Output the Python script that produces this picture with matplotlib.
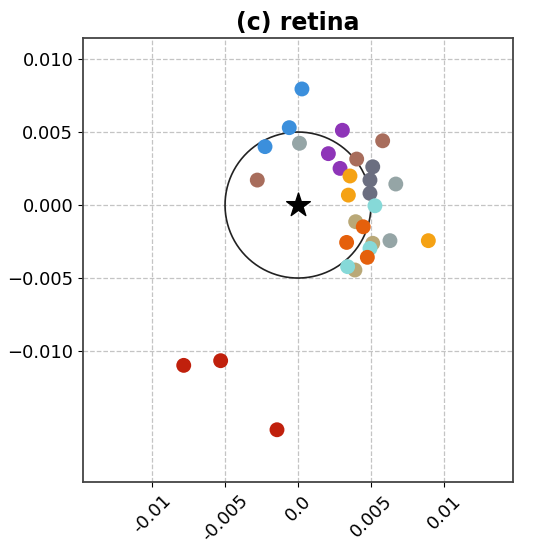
import matplotlib.pyplot as plt
import numpy as np

# embedding offsets per group
blue_x = [0.00027, -0.0006, -0.00226]
blue_y = [0.00795, 0.0053, 0.0040]
gray_x = [0.0001, 0.0067, 0.0063]
gray_y = [0.00423, 0.00144, -0.00244]
brown_x = [-0.00279, 0.0058, 0.00402]
brown_y = [0.00171, 0.0044, 0.00315]
purple_x = [0.00304, 0.00208, 0.00288]
purple_y = [0.00512, 0.00352, 0.00251]
slate_x = [0.00512, 0.00493, 0.00493]
slate_y = [0.00262, 0.00171, 0.0008]
orange_x = [0.00356, 0.00345, 0.00893]
orange_y = [0.00199, 0.00068, -0.00244]
tan_x = [0.00395, 0.00512, 0.0039]
tan_y = [-0.00114, -0.00262, -0.00445]
cyan_x = [0.00527, 0.00493, 0.0034]
cyan_y = [-0.00005, -0.00297, -0.00422]
pumpkin_x = [0.00447, 0.00333, 0.00475]
pumpkin_y = [-0.00149, -0.00256, -0.00358]
red_x = [-0.00783, -0.0053, -0.00144]
red_y = [-0.01098, -0.01066, -0.01539]

radius = 0.005
xticks = [-0.01, -0.005, 0.0, 0.005, 0.01]
xticklabels = ["-0.01", "-0.005", "0.0", "0.005", "0.01"]
yticks = [0.010, 0.005, 0.0, -0.005, -0.010]
yticklabels = ["0.010", "0.005", "0.000", "\u22120.005", "\u22120.010"]

groups = [
    (blue_x, blue_y, "#3b8fdc"),
    (gray_x, gray_y, "#95a5a6"),
    (brown_x, brown_y, "#a86d5c"),
    (purple_x, purple_y, "#8e35b8"),
    (slate_x, slate_y, "#6b6e80"),
    (orange_x, orange_y, "#f5a214"),
    (tan_x, tan_y, "#b9a877"),
    (cyan_x, cyan_y, "#86d9d8"),
    (pumpkin_x, pumpkin_y, "#e5600c"),
    (red_x, red_y, "#c0200c"),
]

fig = plt.figure(figsize=(5.37, 5.5), dpi=100)
ax = fig.add_axes([0.1546, 0.1236, 0.8007, 0.8073])

for gx, gy, col in groups:
    ax.scatter(gx, gy, s=115, color=col, zorder=3, edgecolors='none')

theta = np.linspace(0, 2 * np.pi, 300)
ax.plot(radius * np.cos(theta), radius * np.sin(theta), color='#222222', lw=1.2, zorder=2)
ax.scatter([0], [0], marker='*', s=320, color='black', zorder=4)

ax.set_xlim(-0.01473, 0.01473)
ax.set_ylim(-0.01897, 0.01144)
ax.set_xticks(xticks)
ax.set_xticklabels(xticklabels, rotation=45, fontsize=13)
ax.set_yticks(yticks)
ax.set_yticklabels(yticklabels, fontsize=13)
ax.grid(True, linestyle='--', color='#c4c4c4', lw=0.9)
ax.set_axisbelow(True)
for sp in ax.spines.values():
    sp.set_color('#444444')
    sp.set_linewidth(1.3)
ax.set_title("(c) retina", fontsize=17, fontweight='bold')

fig.savefig("out.png", dpi=100)
